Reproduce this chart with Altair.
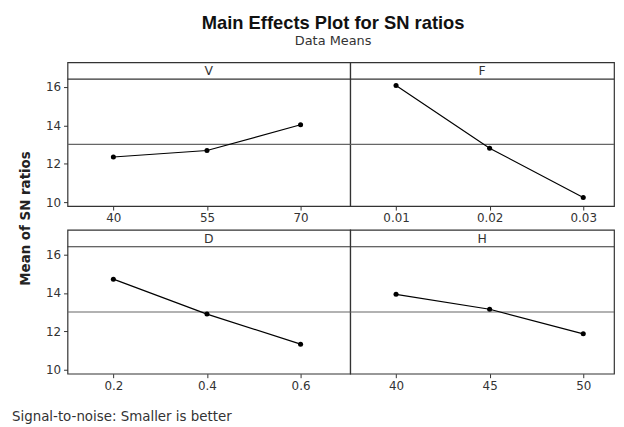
import altair as alt
import pandas as pd
import numpy as np

# ---- data ----
V_levels = ["40", "55", "70"]
V_means = [12.35, 12.69, 14.03]
F_levels = ["0.01", "0.02", "0.03"]
F_means = [16.08, 12.81, 10.24]
D_levels = ["0.2", "0.4", "0.6"]
D_means = [14.72, 12.90, 11.33]
H_levels = ["40", "45", "50"]
H_means = [13.93, 13.15, 11.87]

grand_mean = float(np.mean(V_means + F_means + D_means + H_means))

FONT = "DejaVu Sans"
BORDER = "#333333"
H = 145
STRIP = 17
YDOM = [9.79, 17.29]


def panel(name, levels, means, width, xmax, show_y, ytitle=False, footnote=False):
    df = pd.DataFrame({"idx": [0, 1, 2], "level": levels, "mean": means})
    xenc = alt.X(
        "idx:Q",
        scale=alt.Scale(domain=[-0.49, xmax], nice=False, zero=False),
        axis=alt.Axis(
            values=[0, 1, 2],
            labelExpr=f"{levels}[datum.value]",
            title=None,
            grid=False,
            domain=False,
            tickSize=4,
            tickColor=BORDER,
            labelColor="#333333",
            labelFontSize=12,
            labelFont=FONT,
            labelPadding=3,
        ),
    )
    if show_y:
        yaxis = alt.Axis(
            values=[10, 12, 14, 16],
            title="Mean of SN ratios" if ytitle else None,
            grid=False,
            domain=False,
            tickSize=4,
            tickColor=BORDER,
            labelColor="#333333",
            labelFontSize=12,
            labelFont=FONT,
            labelPadding=3,
            titleFont=FONT,
            titleFontSize=13.5,
            titleFontWeight="bold",
            titleColor="#222222",
            titleX=-42,
            titleY=157,
            titleBaseline="middle",
            titleAlign="center",
            titleAngle=270,
        )
    else:
        yaxis = None
    yenc = alt.Y("mean:Q", scale=alt.Scale(domain=YDOM, nice=False, zero=False), axis=yaxis)

    base = alt.Chart(df).encode(x=xenc, y=yenc)
    line = base.mark_line(color="black", strokeWidth=1.2)
    pts = base.mark_point(filled=True, size=26, color="black", opacity=1)

    one = pd.DataFrame({"mean": [grand_mean]})
    mean_rule = alt.Chart(one).mark_rule(color="#666666", strokeWidth=1.2).encode(
        y=yenc, x=alt.value(0), x2=alt.value(width)
    )
    strip_rule = alt.Chart(one).mark_rule(color=BORDER, strokeWidth=1.2).encode(
        y=alt.value(STRIP), x=alt.value(0), x2=alt.value(width)
    )
    strip_text = alt.Chart(one).mark_text(
        text=name, font=FONT, fontSize=12.5, color="#333333", baseline="middle"
    ).encode(x=alt.value(width / 2), y=alt.value(STRIP / 2 + 0.5))

    layers = [mean_rule, strip_rule, strip_text, line, pts]
    if footnote:
        note = alt.Chart(one).mark_text(
            text="Signal-to-noise: Smaller is better",
            font=FONT, fontSize=13.5, color="#333333", align="left", baseline="middle",
        ).encode(x=alt.value(-56), y=alt.value(189))
        layers.append(note)
    return alt.layer(*layers).properties(width=width, height=H)


W_L = 285
W_R = 266
XMAX_L = 2.53
XMAX_R = -0.49 + W_R / (W_L / (XMAX_L + 0.49))

tl = panel("V", V_levels, V_means, W_L, XMAX_L, True, ytitle=True)
tr = panel("F", F_levels, F_means, W_R, XMAX_R, False)
bl = panel("D", D_levels, D_means, W_L, XMAX_L, True, footnote=True)
br = panel("H", H_levels, H_means, W_R, XMAX_R, False)

chart = alt.concat(
    tl, tr, bl, br,
    columns=2,
    spacing={"row": 24, "column": 0},
    bounds="flush",
).properties(
    title=alt.TitleParams(
        "Main Effects Plot for SN ratios",
        subtitle="Data Means",
        font="Liberation Sans",
        fontSize=18.5,
        fontWeight="bold",
        color="#111111",
        subtitleFont=FONT,
        subtitleFontSize=13,
        subtitleColor="#333333",
        subtitlePadding=2,
        anchor="middle",
        dx=20,
        offset=14,
    ),
    padding={"left": 3, "top": 4, "right": 0, "bottom": 0},
).configure_view(
    stroke=BORDER, strokeWidth=1.2
)

chart.save("out.html", embed_options={"renderer": "svg", "actions": False})
